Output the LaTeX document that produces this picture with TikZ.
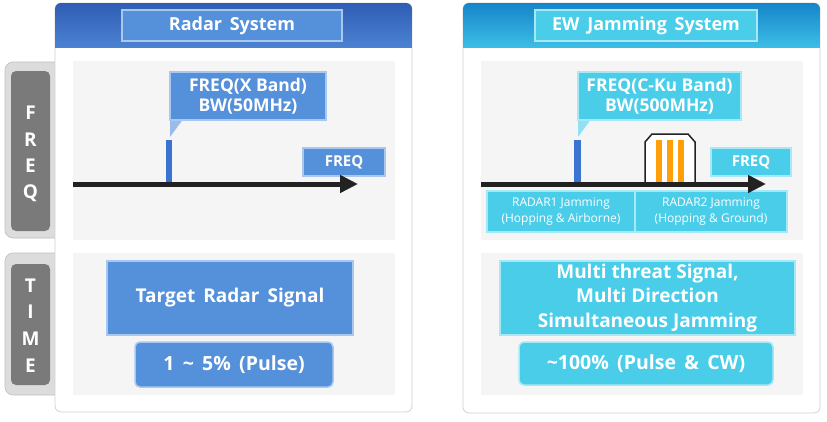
\documentclass[tikz,border=0pt]{standalone}
\usepackage{fontspec}
\setmainfont{Open Sans}
\usetikzlibrary{arrows.meta}
\definecolor{rblue}{HTML}{5590DA}
\definecolor{rglow}{HTML}{A8C8F0}
\definecolor{rhdtop}{HTML}{2F5DB5}
\definecolor{rhdbot}{HTML}{4C82D2}
\definecolor{cblue}{HTML}{4ACDE9}
\definecolor{cglow}{HTML}{A6E8F6}
\definecolor{chdtop}{HTML}{1585C9}
\definecolor{chdbot}{HTML}{3CBDE6}
\definecolor{barblue}{HTML}{3A74D0}
\definecolor{orangebar}{HTML}{FFA00A}
\definecolor{panelgray}{HTML}{F5F5F5}
\definecolor{tabouter}{HTML}{DCDCDC}
\definecolor{tabinner}{HTML}{7A7A7A}
\definecolor{axisc}{HTML}{222222}
\tikzset{
  rbox/.style={fill=rblue, draw=rglow, line width=1.5pt, text=white, font=\bfseries, align=center, inner sep=0pt},
  cbox/.style={fill=cblue, draw=cglow, line width=1.5pt, text=white, font=\bfseries, align=center, inner sep=0pt},
  panel/.style={rounded corners=6pt, draw=black!18, line width=0.8pt, fill=white},
  grayarea/.style={fill=panelgray},
  tabout/.style={rounded corners=8pt, fill=tabouter, draw=black!25, line width=0.6pt},
  tabin/.style={rounded corners=5pt, fill=tabinner, draw=none, inner sep=0pt},
  tabletter/.style={text=white, font=\bfseries\fontsize{19}{20}\selectfont, inner sep=0pt},
  axisline/.style={line width=5pt, draw=axisc, -{Triangle[length=18pt,width=17pt]}},
}
\begin{document}
\begin{tikzpicture}[x=1pt,y=-1pt]
\useasboundingbox (0,0) rectangle (827,421);
% side tabs
\draw[tabout] (5,62) rectangle (70,238);
\draw[tabout] (5,253) rectangle (70,395);
% panels
\draw[panel] (55,3) rectangle (412,412);
\draw[panel] (463,3) rectangle (820,413);
\begin{scope}
\clip[rounded corners=6pt] (55,3) rectangle (412,412);
\shade[top color=rhdtop, bottom color=rhdbot] (55,3) rectangle (412,47);
\end{scope}
\begin{scope}
\clip[rounded corners=6pt] (463,3) rectangle (820,413);
\shade[top color=chdtop, bottom color=chdbot] (463,3) rectangle (820,47);
\end{scope}
% gray areas
\fill[grayarea] (73,61) rectangle (395,240);
\fill[grayarea] (73,253) rectangle (395,395);
\fill[grayarea] (481,61) rectangle (803,240);
\fill[grayarea] (481,253) rectangle (803,395);
% tab inners
\node[tabin, minimum width=39pt, minimum height=160pt] (tabfreq) at (30.5,151) {};
\node[tabin, minimum width=39pt, minimum height=121pt] (tabtime) at (30.5,324.5) {};
\node[tabletter] (tF) at (30.5,113) {F};
\node[tabletter] (tR) at (30.5,140) {R};
\node[tabletter] (tE) at (30.5,166) {E};
\node[tabletter] (tQ) at (30.5,193) {Q};
\node[tabletter] (tT) at (30.5,286) {T};
\node[tabletter] (tI) at (30.5,312) {I};
\node[tabletter] (tM) at (30.5,339) {M};
\node[tabletter] (tE2) at (30.5,366) {E};
% titles
\node[rbox, minimum width=220pt, minimum height=31pt, font=\bfseries\fontsize{18}{20}\selectfont] (ltitle) at (232,25.5) {Radar\, System};
\node[cbox, minimum width=222pt, minimum height=31pt, font=\bfseries\fontsize{18}{20}\selectfont] (rtitle) at (646,25.5) {EW\, Jamming\, System};
% left FREQ panel
\fill[rblue!60] (170,118) -- (184,118) -- (170,137) -- cycle;
\node[rbox, minimum width=156pt, minimum height=48pt, font=\bfseries\fontsize{17.5}{20}\selectfont] (lcall) at (248,96) {FREQ(X Band)\\BW(50MHz)};
\fill[barblue] (166,140) rectangle (172,183);
\node[rbox, minimum width=82pt, minimum height=28pt, font=\bfseries\fontsize{15}{16}\selectfont] (lfreq) at (344,162) {FREQ};
\coordinate (la0) at (73,184);
\coordinate (la1) at (358,184);
\draw[axisline] (la0) -- (la1);
% right FREQ panel
\fill[cblue!60] (578,118) -- (592,118) -- (578,137) -- cycle;
\node[cbox, minimum width=163pt, minimum height=48pt, font=\bfseries\fontsize{17.5}{20}\selectfont] (rcall) at (659.5,96) {FREQ(C-Ku Band)\\BW(500MHz)};
\fill[barblue] (574,140) rectangle (581,183);
\fill[white] (645,183) -- (645,142) -- (652,134) -- (688,134) -- (695,142) -- (695,183) -- cycle;
\fill[orangebar] (656,140) rectangle (662,183);
\fill[orangebar] (667,140) rectangle (673,183);
\fill[orangebar] (678,140) rectangle (684,183);
\draw[line width=1.5pt, axisc, line join=miter] (645,183) -- (645,142) -- (652,134) -- (688,134) -- (695,142) -- (695,183);
\node[cbox, minimum width=80pt, minimum height=28pt, font=\bfseries\fontsize{15}{16}\selectfont] (rfreq) at (751,162) {FREQ};
\node[cbox, minimum width=148pt, minimum height=41pt, font=\fontsize{12}{15.5}\selectfont] (rad1) at (561,211.5) {RADAR1 Jamming\\(Hopping \& Airborne)};
\node[cbox, minimum width=152pt, minimum height=41pt, font=\fontsize{12}{15.5}\selectfont] (rad2) at (711,211.5) {RADAR2 Jamming\\(Hopping \& Ground)};
\coordinate (ra0) at (481,184);
\coordinate (ra1) at (766,184);
\draw[axisline] (ra0) -- (ra1);
% TIME panels
\node[rbox, minimum width=246pt, minimum height=74pt, font=\bfseries\fontsize{19}{20}\selectfont] (ltarget) at (230,298) {Target\, Radar\, Signal};
\node[rbox, rounded corners=5pt, minimum width=198pt, minimum height=45pt, font=\bfseries\fontsize{19.5}{20}\selectfont] (lpulse) at (234,364.5) {1\, \textasciitilde\,\ 5\%\, (Pulse)};
\node[cbox, minimum width=295pt, minimum height=74pt, font=\bfseries\fontsize{19}{24.5}\selectfont] (rmulti) at (647.5,298) {Multi threat Signal,\\Multi Direction\\Simultaneous Jamming};
\node[cbox, rounded corners=5pt, minimum width=254pt, minimum height=43pt, font=\bfseries\fontsize{19.5}{20}\selectfont] (rpulse) at (646,363.5) {\textasciitilde100\%\, (Pulse\, \&\, CW)};
\end{tikzpicture}
\end{document}
